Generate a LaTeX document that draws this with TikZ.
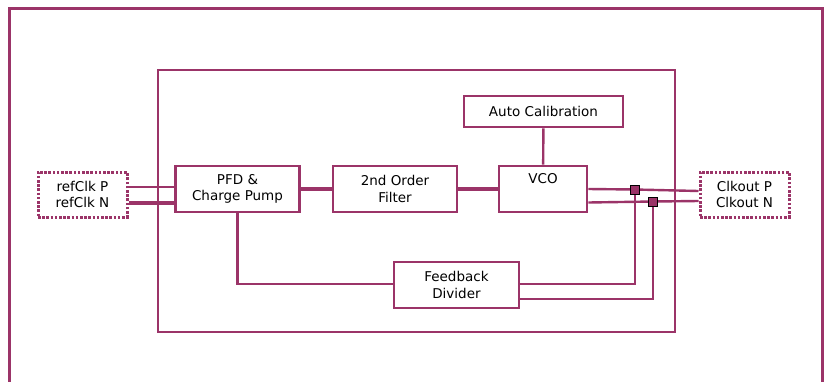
\documentclass[tikz,border=0pt]{standalone}
\usepackage{fontspec}
\setmainfont{DejaVu Sans}
\usetikzlibrary{positioning}
\definecolor{pllred}{HTML}{9B3468}
\newcommand{\blkfont}{\fontsize{13.5}{16.5}\selectfont}

\begin{document}
\begin{tikzpicture}[x=1pt, y=-1pt,
    blk/.style={draw=pllred, line width=2.6pt, fill=white, align=center, font=\blkfont, inner sep=0pt, minimum height=46pt},
    pin/.style={draw=pllred, line width=3pt, dash pattern=on 2.6pt off 1.6pt, align=center, font=\blkfont, inner sep=0pt, minimum width=89pt, minimum height=45pt},
    wire/.style={pllred, line width=2.4pt},
    bus/.style={pllred, line width=3.6pt},
    jn/.style={draw=black, fill=pllred, line width=0.8pt, minimum size=9pt, inner sep=0pt}]
  \useasboundingbox (0,0) rectangle (824,381);
  \draw[pllred, line width=3pt] (9.5,400) -- (9.5,8.5) -- (822.5,8.5) -- (822.5,400);
  \draw[pllred, line width=2.6pt] (158,70) rectangle (675,332);
  \node[blk, minimum width=124pt] (pfd) at (237.5,189) {PFD \&\\Charge Pump};
  \node[blk, minimum width=124pt] (lpf) at (395,189)   {2nd Order\\Filter};
  \node[blk, minimum width=88pt]  (vco) at (543,189)   {VCO\\\strut};
  \node[blk, minimum width=159pt, minimum height=31pt] (cal) at (543.5,111.5) {Auto Calibration};
  \node[blk, minimum width=125pt] (div) at (456.5,285) {Feedback\\Divider};
  \node[pin] (ref) at (82.5,194.5)  {refClk P\\refClk N};
  \node[pin] (out) at (744.5,194.5) {Clkout P\\Clkout N};
  \coordinate (jp) at (635,189.5);
  \coordinate (jq) at (653,201.5);
  \draw[wire, line width=1.8pt] ([yshift=7.5pt]ref.east) -- (pfd.west |- 0,187);
  \draw[bus] ([yshift=-8.5pt]ref.east) -- (pfd.west |- 0,203);
  \draw[bus] (pfd) -- (lpf); \draw[bus] (lpf) -- (vco);
  \draw[wire] (cal) -- (vco);
  \draw[wire] (vco.east |- 0,189) -- (jp) -- ([yshift=3.5pt]out.west);
  \draw[wire] (vco.east |- 0,202.5) -- (jq) -- ([yshift=-6.5pt]out.west);
  \draw[wire] (jp) |- ([yshift=1pt]div.east);
  \draw[wire] (jq) |- ([yshift=-14pt]div.east);
  \draw[wire] (pfd.south) |- ([yshift=1pt]div.west);
  \node[jn] (sqp) at (jp) {};
  \node[jn] (sqq) at (jq) {};
\end{tikzpicture}
\end{document}
